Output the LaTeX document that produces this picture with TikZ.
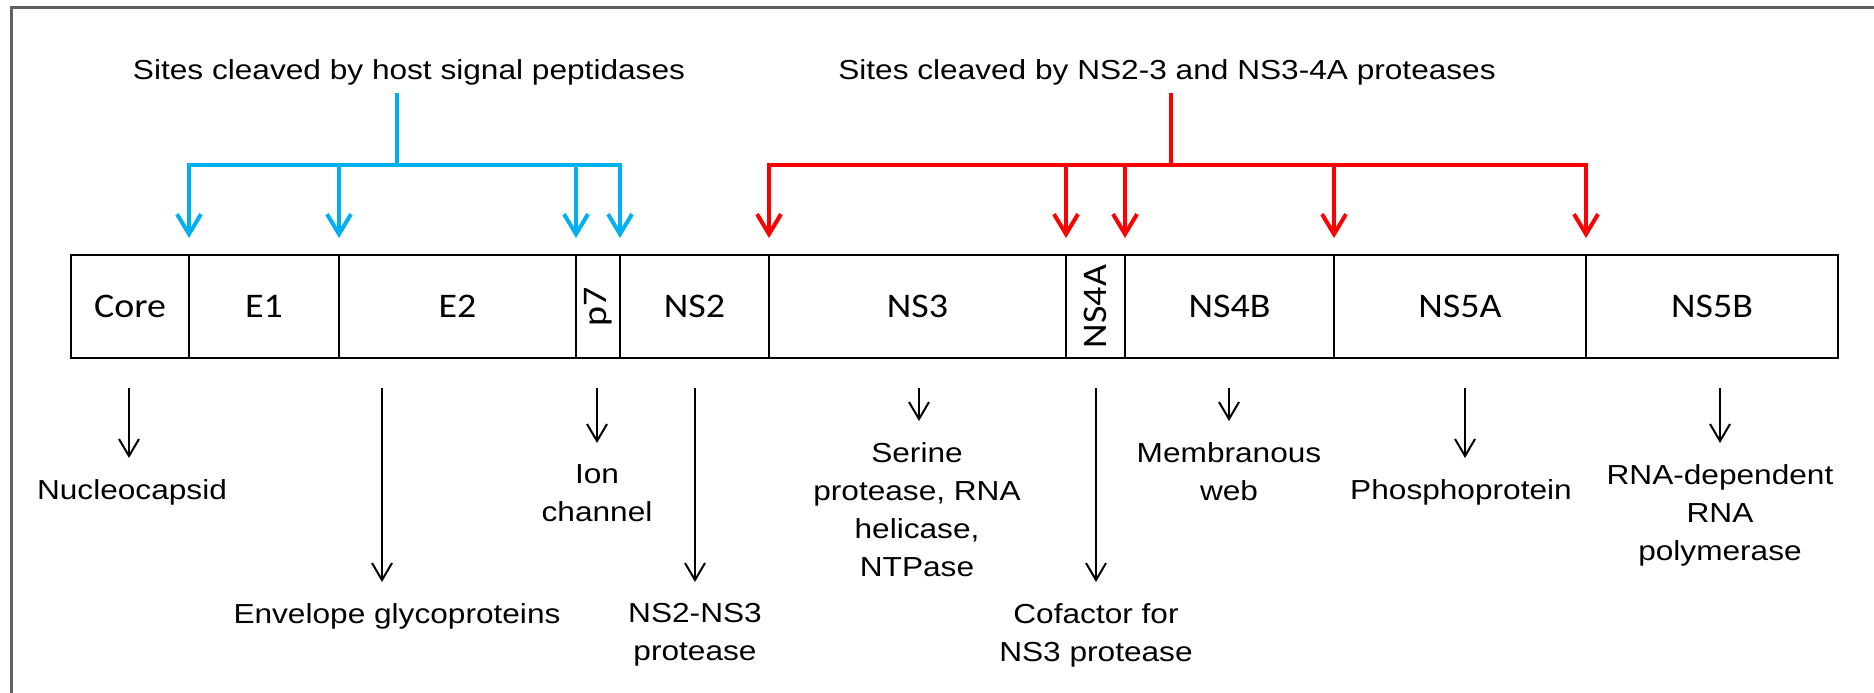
\documentclass[tikz,border=0pt]{standalone}
\usepackage{fontspec}
\usepackage{graphicx}
\setmainfont{Liberation Sans}
\newfontfamily\arialx[FakeStretch=1.15]{Liberation Sans}
\newfontfamily\calib[FakeStretch=1.1]{Carlito}
\usetikzlibrary{arrows.meta}
\definecolor{cblue}{RGB}{0,176,240}
\definecolor{cred}{RGB}{255,0,0}
\definecolor{frame}{RGB}{95,95,95}
\begin{document}
\begin{tikzpicture}[x=1pt,y=-1pt,
  seg/.style={draw=black, line width=1.5pt, minimum height=103pt, inner sep=0pt, outer sep=0pt,
    font=\calib\fontsize{34.5}{40}\selectfont, anchor=north west},
  lab/.style={font=\arialx\fontsize{27.5}{38}\selectfont, align=center, inner sep=0pt, anchor=north},
  hdr/.style={font=\arialx\fontsize{27.5}{38}\selectfont, inner sep=0pt},
  blk/.style={line width=2pt, shorten >=21pt, -{Straight Barb[length=17pt,width=20pt]}},
  bls/.style={draw=cblue, line width=4pt},
  bla/.style={draw=cblue, line width=4pt, -{Straight Barb[length=20pt,width=24pt]}},
  rds/.style={draw=cred, line width=4pt},
  rda/.style={draw=cred, line width=4pt, -{Straight Barb[length=20pt,width=24pt]}}
]
\useasboundingbox (0,0) rectangle (1874,693);
% frame
\draw[frame, line width=3pt] (11,693) -- (11,8) -- (1874,8);

% genome segments
\node[seg, minimum width=118pt] (core) at (71,255) {Core};
\node[seg, minimum width=150pt] (e1) at (189,255) {E1};
\node[seg, minimum width=237pt] (e2) at (339,255) {E2};
\node[seg, minimum width=44pt] (p7) at (576,255) {\rotatebox{90}{p7}};
\node[seg, minimum width=149pt] (ns2) at (620,255) {NS2};
\node[seg, minimum width=297pt] (ns3) at (769,255) {NS3};
\node[seg, minimum width=59pt] (ns4a) at (1066,255) {\rotatebox{90}{NS4A}};
\node[seg, minimum width=209pt] (ns4b) at (1125,255) {NS4B};
\node[seg, minimum width=252pt] (ns5a) at (1334,255) {NS5A};
\node[seg, minimum width=252pt] (ns5b) at (1586,255) {NS5B};

% headers
\node[hdr] (hb) at (409,72) {Sites cleaved by host signal peptidases};
\node[hdr] (hr) at (1167,72) {Sites cleaved by NS2-3 and NS3-4A proteases};

% blue cleavage arrows
\coordinate (bj) at (397,165);
\coordinate (bt) at (397,93);
\draw[bls] (bt) -- (bj);
\draw[bla] (bj) -| ([yshift=17pt]core.north east);
\draw[bla] (bj) -| ([yshift=17pt]e1.north east);
\draw[bla] (bj) -| ([yshift=17pt]e2.north east);
\draw[bla] (bj) -| ([yshift=17pt]p7.north east);

% red cleavage arrows
\coordinate (rj) at (1171,165);
\coordinate (rt) at (1171,93);
\draw[rds] (rt) -- (rj);
\draw[rda] (rj) -| ([yshift=17pt]ns2.north east);
\draw[rda] (rj) -| ([yshift=17pt]ns3.north east);
\draw[rda] (rj) -| ([yshift=17pt]ns4a.north east);
\draw[rda] (rj) -| ([yshift=17pt]ns4b.north east);
\draw[rda] (rj) -| ([yshift=17pt]ns5a.north east);

% function labels
\node[lab] (lnuc) at (132,479) {Nucleocapsid};
\node[lab] (lenv) at (397,603) {Envelope glycoproteins};
\node[lab] (lion) at (597,464) {Ion\\channel};
\node[lab] (lns2) at (695,603) {NS2-NS3\\protease};
\node[lab] (lns3) at (917,442) {Serine\\protease, RNA\\helicase,\\NTPase};
\node[lab] (lcof) at (1096,603) {Cofactor for\\NS3 protease};
\node[lab] (lmem) at (1229,442) {Membranous\\web};
\node[lab] (lpho) at (1461,479) {Phosphoprotein};
\node[lab] (lrdr) at (1720,464) {RNA-dependent\\RNA\\polymerase};

% function arrows
\coordinate (s1) at (129,388);
\coordinate (s2) at (382,388);
\coordinate (s3) at (597,388);
\coordinate (s4) at (695,388);
\coordinate (s5) at (919,388);
\coordinate (s6) at (1096,388);
\coordinate (s7) at (1229,388);
\coordinate (s8) at (1465,388);
\coordinate (s9) at (1720,388);
\draw[blk] (s1) -- (s1 |- lnuc.north);
\draw[blk] (s2) -- (s2 |- lenv.north);
\draw[blk] (s3) -- (s3 |- lion.north);
\draw[blk] (s4) -- (s4 |- lns2.north);
\draw[blk] (s5) -- (s5 |- lns3.north);
\draw[blk] (s6) -- (s6 |- lcof.north);
\draw[blk] (s7) -- (s7 |- lmem.north);
\draw[blk] (s8) -- (s8 |- lpho.north);
\draw[blk] (s9) -- (s9 |- lrdr.north);
\end{tikzpicture}
\end{document}
